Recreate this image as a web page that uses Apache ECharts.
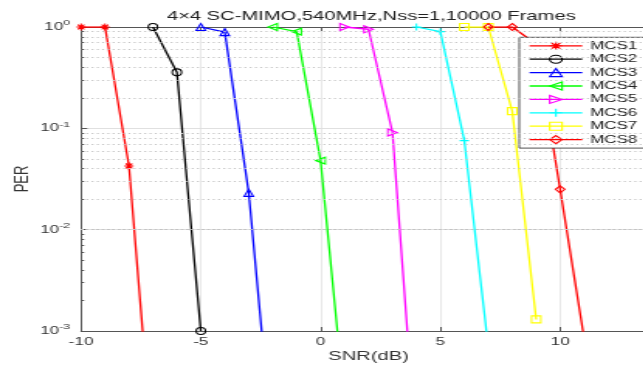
<!DOCTYPE html>
<html><head><meta charset="utf-8">
<script src="https://cdn.jsdelivr.net/npm/echarts@6/dist/echarts.min.js"></script>
<style>
html,body{margin:0;padding:0;background:#fff;overflow:hidden;width:643px;height:368px;}
#chart{position:absolute;left:0;top:0;width:440px;height:368px;transform:scaleX(1.55);transform-origin:0 0;}
</style></head><body><div id="chart"></div>
<script>
// ---- data ----
const seriesNames = ['MCS1','MCS2','MCS3','MCS4','MCS5','MCS6','MCS7','MCS8'];
const snrMCS1 = [-10, -9, -8, -7];
const perMCS1 = [1, 1, 0.0425, 5.9e-5];
const snrMCS2 = [-7, -6, -5];
const perMCS2 = [1, 0.357, 0.001];
const snrMCS3 = [-5, -4, -3, -2];
const perMCS3 = [1, 0.89, 0.0231, 6.8e-5];
const snrMCS4 = [-2, -1, 0, 1];
const perMCS4 = [1, 0.9, 0.048, 1.9e-4];
const snrMCS5 = [1, 2, 3, 4];
const perMCS5 = [1, 0.95, 0.091, 6.3e-5];
const snrMCS6 = [4, 5, 6, 7];
const perMCS6 = [1, 0.9, 0.0755, 6.9e-4];
const snrMCS7 = [6, 7, 8, 9];
const perMCS7 = [1, 1, 0.148, 0.0013];
const snrMCS8 = [7, 8, 9, 10, 11];
const perMCS8 = [1, 1, 0.68, 0.025, 8.5e-4];
const snrAll = [snrMCS1, snrMCS2, snrMCS3, snrMCS4, snrMCS5, snrMCS6, snrMCS7, snrMCS8];
const perAll = [perMCS1, perMCS2, perMCS3, perMCS4, perMCS5, perMCS6, perMCS7, perMCS8];
const titleText = '4×4 SC-MIMO,540MHz,Nss=1,10000 Frames';
const xName = 'SNR(dB)';
const yName = 'PER';
const xMin = -10, xMax = 14, xInterval = 5;
const yMin = 0.001, yMax = 1;
const minorDecades = [-3, -2, -1];
const minorMantissas = [2, 3, 4, 5, 6, 7, 8, 9];

// ---- styles ----
const colors = ['#ff0000','#000000','#0000ff','#00ff00','#ff00ff','#00ffff','#ffff00','#ff0000'];
const markers = [
  'path://M5,0L5,10M0,5L10,5M1.5,1.5L8.5,8.5M1.5,8.5L8.5,1.5',
  'path://M10,5A5,5,0,1,1,0,5A5,5,0,1,1,10,5Z',
  'path://M5,0L10,10L0,10Z',
  'path://M0,5L10,0L10,10Z',
  'path://M10,5L0,0L0,10Z',
  'path://M5,0L5,10M0,5L10,5',
  'path://M0,0L10,0L10,10L0,10Z',
  'path://M5,0L10,5L5,10L0,5Z'
];
const FONT = "'Liberation Sans', Arial, Helvetica, sans-serif";
const AXIS_COLOR = '#555';
const TEXT_COLOR = '#333';

const minorVals = [];
minorDecades.forEach(k => minorMantissas.forEach(m => minorVals.push(Number((m * Math.pow(10, k)).toPrecision(3)))));

const series = [{
  name: '_grid', type: 'line', data: [], z: 1, silent: true,
  markLine: {
    silent: true, symbol: ['none','none'], label: {show: false}, animation: false,
    emphasis: {disabled: true},
    data: minorVals.map(v => ({yAxis: v, lineStyle: {color: '#c4c4c4', width: 1, type: [1.2, 2.2]}}))
      .concat(minorVals.map(v => [{coord: [xMin, v], lineStyle: {color: AXIS_COLOR, width: 1, type: 'solid'}}, {coord: [xMin + 0.13, v]}]))
  }
}];
seriesNames.forEach((name, i) => {
  series.push({
    name: name, type: 'line', z: 3,
    data: snrAll[i].map((x, j) => [x, perAll[i][j]]),
    symbol: markers[i], symbolSize: [6, 7], showSymbol: true,
    lineStyle: {color: colors[i], width: 1.3},
    itemStyle: {color: 'transparent', borderColor: colors[i], borderWidth: 1.1},
    emphasis: {disabled: true},
    animation: false
  });
});

const chart = echarts.init(document.getElementById('chart'));
chart.setOption({
  animation: false,
  backgroundColor: '#fff',
  textStyle: {fontFamily: FONT},
  title: {
    text: titleText, left: 107.7, top: 9.5, padding: 0, textAlign: 'left',
    textStyle: {fontSize: 13, fontWeight: 'normal', color: '#222', fontFamily: FONT}
  },
  legend: {
    data: seriesNames, orient: 'vertical', left: 335, top: 37.3,
    padding: [3, 6, 3, 6], itemGap: 2.4, itemWidth: 34, itemHeight: 10,
    backgroundColor: '#fff', borderColor: '#262626', borderWidth: 0.8, borderRadius: 0,
    selectedMode: false,
    itemStyle: {borderWidth: 1.1},
    lineStyle: {width: 1.3},
    textStyle: {fontSize: 11, color: '#222', fontFamily: FONT, padding: 0}
  },
  grid: {left: 52.3, right: 16.8, top: 27, bottom: 37, containLabel: false, outerBoundsMode: 'none'},
  xAxis: [{
    type: 'value', min: xMin, max: xMax, interval: xInterval, position: 'bottom',
    name: xName, nameLocation: 'middle', nameGap: 19, nameMoveOverlap: false,
    nameTextStyle: {fontSize: 13, color: TEXT_COLOR, fontFamily: FONT},
    axisLine: {show: true, onZero: false, lineStyle: {color: AXIS_COLOR, width: 1}},
    axisTick: {show: true, inside: true, length: 4, lineStyle: {color: AXIS_COLOR}},
    axisLabel: {fontSize: 11, color: TEXT_COLOR, margin: 5, showMaxLabel: false, fontFamily: FONT},
    splitLine: {show: true, lineStyle: {color: '#dedede', width: 0.7}}
  }, {
    type: 'value', min: xMin, max: xMax, interval: xInterval, position: 'top',
    axisLine: {show: true, onZero: false, lineStyle: {color: AXIS_COLOR, width: 1}},
    axisTick: {show: true, inside: true, length: 4, lineStyle: {color: AXIS_COLOR}},
    axisLabel: {show: false}, splitLine: {show: false}
  }],
  yAxis: {
    type: 'log', logBase: 10, min: yMin, max: yMax,
    name: yName, nameLocation: 'middle', nameGap: 31, nameMoveOverlap: false,
    nameTextStyle: {fontSize: 13, color: TEXT_COLOR, fontFamily: FONT},
    axisLine: {show: true, onZero: false, lineStyle: {color: AXIS_COLOR, width: 1}},
    axisTick: {show: true, inside: true, length: 4, lineStyle: {color: AXIS_COLOR}},
    axisLabel: {
      margin: 7,
      formatter: v => '{b|10}{s|' + Math.round(Math.log10(v)) + '}',
      rich: {
        b: {fontSize: 11, color: TEXT_COLOR, lineHeight: 16, fontFamily: FONT},
        s: {fontSize: 8, color: TEXT_COLOR, lineHeight: 7, verticalAlign: 'top', fontFamily: FONT}
      }
    },
    splitLine: {show: true, lineStyle: {color: '#e0e0e0', width: 1}}
  },
  series: series
});
</script></body></html>
